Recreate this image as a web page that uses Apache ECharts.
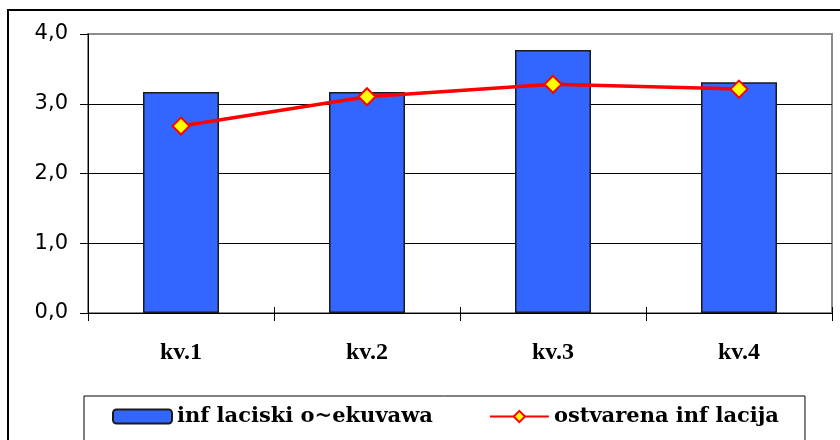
<!DOCTYPE html>
<html>
<head>
<meta charset="utf-8">
<script src="https://cdn.jsdelivr.net/npm/echarts@6/dist/echarts.min.js"></script>
<style>
  html, body { margin: 0; padding: 0; background: #fff; }
  #chart { width: 840px; height: 440px; }
</style>
</head>
<body>
<div id="chart"></div>
<script>
// kvartali
var kvartali = ['kv.1', 'kv.2', 'kv.3', 'kv.4'];
// inflaciski ocekuvanja (stolbovi)
var ocekuvanja = [3.17, 3.17, 3.77, 3.31];
// ostvarena inflacija (linija)
var ostvarena = [2.68, 3.10, 3.28, 3.21];
// oznaki na y-oskata
var yOznaki = ['0,0', '1,0', '2,0', '3,0', '4,0'];

var imeStolbovi = 'inf laciski o~ekuvawa';
var imeLinija = 'ostvarena inf lacija';

var option = {
    animation: false,
    backgroundColor: '#fff',
    graphic: [{
        type: 'rect',
        shape: {x: 8, y: 10, width: 900, height: 500},
        style: {fill: null, stroke: '#000', lineWidth: 2},
        silent: true
    }],
    grid: {
        left: 88, top: 34, right: 8, bottom: 127,
        show: true,
        borderColor: '#8c8c8c',
        borderWidth: 2,
        backgroundColor: '#fff'
    },
    legend: {
        left: 84, top: 396,
        padding: [10, 26, 40, 28],
        borderColor: '#000',
        borderWidth: 1,
        itemGap: 56,
        itemWidth: 59,
        itemHeight: 14,
        textStyle: {
            fontFamily: 'DejaVu Serif',
            fontWeight: 'bold',
            fontSize: 21,
            color: '#000'
        },
        data: [imeStolbovi, imeLinija]
    },
    xAxis: [{
        type: 'category',
        data: kvartali,
        axisLine: {lineStyle: {color: '#000', width: 1}},
        axisTick: {show: true, length: 8, lineStyle: {color: '#000'}},
        axisLabel: {
            margin: 28,
            fontFamily: 'Liberation Serif',
            fontWeight: 'bold',
            fontSize: 24,
            color: '#000'
        }
    }, {
        // samo za crtickite sto odat nagore od oskata
        type: 'category',
        data: kvartali,
        position: 'bottom',
        axisLine: {show: false},
        axisTick: {show: true, inside: true, length: 6, lineStyle: {color: '#000'}},
        axisLabel: {show: false},
        splitLine: {show: false}
    }],
    yAxis: {
        type: 'value',
        min: 0, max: 4, interval: 1,
        axisLine: {show: true, lineStyle: {color: '#000', width: 1}},
        axisTick: {show: true, length: 8, lineStyle: {color: '#000'}},
        axisLabel: {
            margin: 20,
            fontFamily: 'DejaVu Sans',
            fontSize: 21,
            color: '#000',
            formatter: function (v) { return yOznaki[Math.round(v)]; }
        },
        splitLine: {
            show: true,
            lineStyle: {color: ['#000', '#000', '#000', '#000', '#8c8c8c'], width: 1}
        }
    },
    series: [{
        name: imeStolbovi,
        type: 'bar',
        data: ocekuvanja,
        barWidth: 76,
        itemStyle: {color: '#3366ff', borderColor: '#1a1a1a', borderWidth: 1.5}
    }, {
        name: imeLinija,
        type: 'line',
        data: ostvarena,
        symbol: 'diamond',
        symbolSize: 17,
        lineStyle: {color: '#ff0000', width: 3.5},
        itemStyle: {color: '#ffff00', borderColor: '#ff0000', borderWidth: 2}
    }]
};

var chart = echarts.init(document.getElementById('chart'));
chart.setOption(option);
</script>
</body>
</html>
